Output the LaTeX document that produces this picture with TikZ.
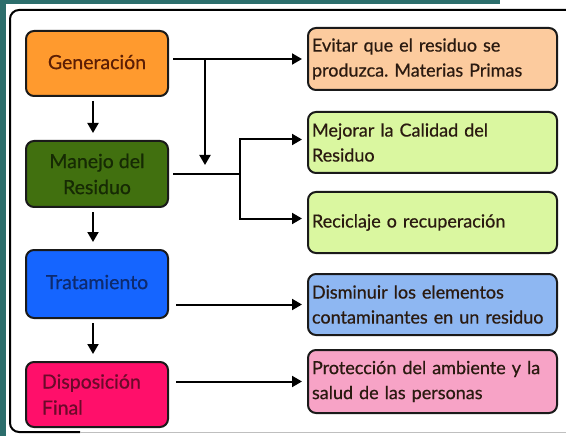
\documentclass[tikz,border=0pt]{standalone}
\usepackage{fontspec}
\setmainfont{Lato}[AutoFakeBold=0.6]
\usetikzlibrary{arrows.meta}
\definecolor{teal1}{HTML}{2C6E6C}
\definecolor{cgen}{HTML}{FF9A2E}
\definecolor{cman}{HTML}{41700F}
\definecolor{ctra}{HTML}{1565FF}
\definecolor{cdis}{HTML}{FF0F6A}
\definecolor{cevi}{HTML}{FCCB9E}
\definecolor{cmej}{HTML}{DAF7A0}
\definecolor{cdsm}{HTML}{8EB7F2}
\definecolor{cpro}{HTML}{F7A3C6}
\definecolor{tgen}{HTML}{5C1E05}
\definecolor{tman}{HTML}{162A04}
\definecolor{ttra}{HTML}{0D2A6E}
\definecolor{tdis}{HTML}{6B0A2A}
\definecolor{trt}{HTML}{2A1A10}
\definecolor{bord}{HTML}{1A1A1A}
\tikzset{
  lbox/.style={draw=bord, line width=2pt, rounded corners=8pt, minimum width=142pt, inner sep=0pt, font=\fontsize{19.5}{26}\selectfont\bfseries, align=center},
  rbox/.style={draw=bord, line width=2pt, rounded corners=8pt, minimum width=249pt, text width=241pt, inner xsep=4pt, inner ysep=0pt, font=\fontsize{18}{25}\selectfont\bfseries, align=left, text=trt},
  arr/.style={line width=2pt, draw=black, -{Triangle[length=10pt,width=11pt]}},
  ln/.style={line width=2pt, draw=black},
}
\begin{document}
\begin{tikzpicture}[x=1pt,y=-1pt]
\useasboundingbox (0,0) rectangle (566,436);
\clip (0,0) rectangle (566,436);
% background strips
\fill[teal1] (0,0) rectangle (500,4);
\fill[teal1] (0,0) rectangle (6,436);
% frame
\draw[line width=2pt, black, rounded corners=9pt] (80,432) -- (10,432) -- (10,10) -- (600,10);
\draw[line width=1pt, black!25] (80,432) -- (566,432);
% left boxes
\node[lbox, fill=cgen, text=tgen, minimum height=65pt] (gen) at (97,63.5) {\raisebox{3pt}{Generación}};
\node[lbox, fill=cman, text=tman, minimum height=66pt] (man) at (97,174) {Manejo del\\Residuo};
\node[lbox, fill=ctra, text=ttra, minimum height=68pt] (tra) at (97,284) {\raisebox{4pt}{Tratamiento}};
\node[lbox, fill=cdis, text=tdis, minimum height=65pt, text width=110pt, align=left] (dis) at (97,394.5) {Disposición\\Final};
% right boxes
\node[rbox, fill=cevi, minimum height=62pt] (evi) at (432.5,59) {Evitar que el residuo se\\produzca.\ Materias Primas};
\node[rbox, fill=cmej, minimum height=61pt] (mej) at (432.5,142.5) {Mejorar la Calidad del\\Residuo};
\node[rbox, fill=cmej, minimum height=61pt] (rec) at (432.5,222.5) {Reciclaje o recuperación};
\node[rbox, fill=cdsm, minimum height=61pt] (dsm) at (432.5,304.5) {Disminuir los elementos\\contaminantes en un residuo};
\node[rbox, fill=cpro, minimum height=63pt] (pro) at (432.5,381.5) {Protección del ambiente y la\\salud de las personas};
% vertical arrows
\draw[arr] ([xshift=-4pt,yshift=-4pt]gen.south) -- ([xshift=-4pt,yshift=7pt]man.north);
\draw[arr] ([xshift=-4pt,yshift=-4pt]man.south) -- ([xshift=-4pt,yshift=7pt]tra.north);
\draw[arr] ([xshift=-4pt,yshift=-4pt]tra.south) -- ([xshift=-4pt,yshift=7pt]dis.north);
% horizontal
\coordinate (j1) at (205,59);
\coordinate (j1e) at (205,165);
\coordinate (j2) at (240,174);
\draw[arr] ([xshift=4pt]gen.east |- evi.west) -- ([xshift=-5pt]evi.west);
\draw[arr] (j1) -- (j1e);
\draw[ln] ([xshift=4pt]man.east) -- (j2);
\draw[arr] (j2) |- ([xshift=-5pt,yshift=3pt]mej.west);
\draw[arr] (j2) |- ([xshift=-5pt,yshift=4pt]rec.west);
\draw[arr] ([xshift=7pt]tra.east |- dsm.west) -- ([xshift=-5pt]dsm.west);
\draw[arr] ([xshift=7pt]dis.east |- pro.west) -- ([xshift=-5pt]pro.west);
\end{tikzpicture}
\end{document}
